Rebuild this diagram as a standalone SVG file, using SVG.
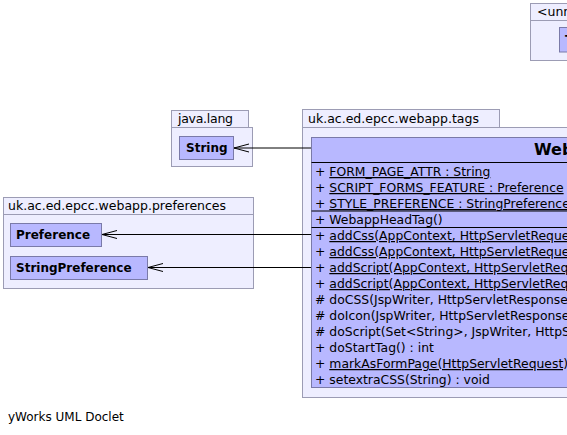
<svg xmlns="http://www.w3.org/2000/svg" width="567" height="435" viewBox="0 0 567 435">
<style>
text{font-family:"DejaVu Sans","Liberation Sans",sans-serif;fill:#000}
.pkg{fill:#eeeeff;stroke:#9c9cb4;stroke-width:1}
.cls{fill:#b8b8ff;stroke:#7a7aa8;stroke-width:1}
.plbl{font-size:12.5px}
.cname{font-size:12px;font-weight:bold}
.mem{font-size:12.4px}
.u{text-decoration:underline}
.sep{stroke:#000;stroke-width:1}
.edge{stroke:#000;stroke-width:1;fill:none}
</style>
<defs>
<marker id="open" markerWidth="16" markerHeight="10" refX="15" refY="5" orient="auto" markerUnits="userSpaceOnUse">
<path d="M0,1 L15,5 L0,9" fill="none" stroke="#000" stroke-width="1"/>
</marker>
</defs>
<rect width="567" height="435" fill="#fff"/>

<g id="pkg-unnamed">
<rect class="pkg" x="530.5" y="3.5" width="60" height="17"/>
<rect class="pkg" x="530.5" y="20.5" width="60" height="40"/>
<text class="plbl" x="537" y="16">&lt;unnamed&gt;</text>
<g id="cls-unnamed">
<rect class="cls" x="559.5" y="27.5" width="40" height="24.5"/>
<text class="cname" x="565" y="44">T</text>
</g>
</g>

<g id="pkg-java-lang">
<rect class="pkg" x="171.5" y="110.5" width="77" height="17"/>
<rect class="pkg" x="171.5" y="127.5" width="81" height="39"/>
<text class="plbl" x="178" y="123" textLength="55">java.lang</text>
<g id="cls-String">
<rect class="cls" x="179.5" y="136.5" width="54" height="23"/>
<text class="cname" x="186" y="152">String</text>
</g>
</g>

<g id="pkg-preferences">
<rect class="pkg" x="3.5" y="197.5" width="250" height="17"/>
<rect class="pkg" x="3.5" y="214.5" width="250" height="74"/>
<text class="plbl" x="8" y="210">uk.ac.ed.epcc.webapp.preferences</text>
<g id="cls-Preference">
<rect class="cls" x="10.5" y="223.5" width="91" height="23"/>
<text class="cname" x="16" y="239">Preference</text>
</g>
<g id="cls-StringPreference">
<rect class="cls" x="10.5" y="256.5" width="137" height="23"/>
<text class="cname" x="16" y="272">StringPreference</text>
</g>
</g>

<g id="pkg-tags">
<rect class="pkg" x="302.5" y="109.5" width="197" height="18"/>
<rect class="pkg" x="302.5" y="127.5" width="620" height="270"/>
<text class="plbl" x="308" y="123">uk.ac.ed.epcc.webapp.tags</text>
<g id="cls-WebappHeadTag">
<rect class="cls" x="311.5" y="137.5" width="600" height="250"/>
<text x="534" y="155" style="font-size:16px;font-weight:bold">WebappHeadTag</text>
<line class="sep" x1="311.5" y1="162.5" x2="911" y2="162.5"/>
<text class="mem" x="315" y="176">+ <tspan class="u">FORM_PAGE_ATTR : String</tspan></text>
<text class="mem" x="315" y="192">+ <tspan class="u">SCRIPT_FORMS_FEATURE : Preference</tspan></text>
<text class="mem" x="315" y="208">+ <tspan class="u">STYLE_PREFERENCE : StringPreference</tspan></text>
<line class="sep" x1="311.5" y1="211" x2="911" y2="211"/>
<text class="mem" x="315" y="224">+ WebappHeadTag()</text>
<line class="sep" x1="311.5" y1="227.5" x2="911" y2="227.5"/>
<text class="mem" x="315" y="240">+ <tspan class="u">addCss(AppContext, HttpServletRequest</tspan></text>
<text class="mem" x="315" y="256">+ <tspan class="u">addCss(AppContext, HttpServletRequest</tspan></text>
<text class="mem" x="315" y="272">+ <tspan class="u">addScript(AppContext, HttpServletRequest</tspan></text>
<text class="mem" x="315" y="288">+ <tspan class="u">addScript(AppContext, HttpServletRequest</tspan></text>
<text class="mem" x="315" y="304"># doCSS(JspWriter, HttpServletResponse</text>
<text class="mem" x="315" y="320"># doIcon(JspWriter, HttpServletResponse</text>
<text class="mem" x="315" y="336"># doScript(Set&lt;String&gt;, JspWriter, HttpServletResponse</text>
<text class="mem" x="315" y="352">+ doStartTag() : int</text>
<text class="mem" x="315" y="368">+ <tspan class="u">markAsFormPage(HttpServletRequest)</tspan></text>
<text class="mem" x="315" y="384">+ setextraCSS(String) : void</text>
</g>
</g>

<g id="connectors">
<line class="edge" x1="311" y1="148" x2="234" y2="148" marker-end="url(#open)"/>
<line class="edge" x1="311" y1="234.5" x2="102" y2="234.5" marker-end="url(#open)"/>
<line class="edge" x1="311" y1="267.5" x2="148" y2="267.5" marker-end="url(#open)"/>
</g>

<text x="8" y="421" style="font-size:12px">yWorks UML Doclet</text>
</svg>
